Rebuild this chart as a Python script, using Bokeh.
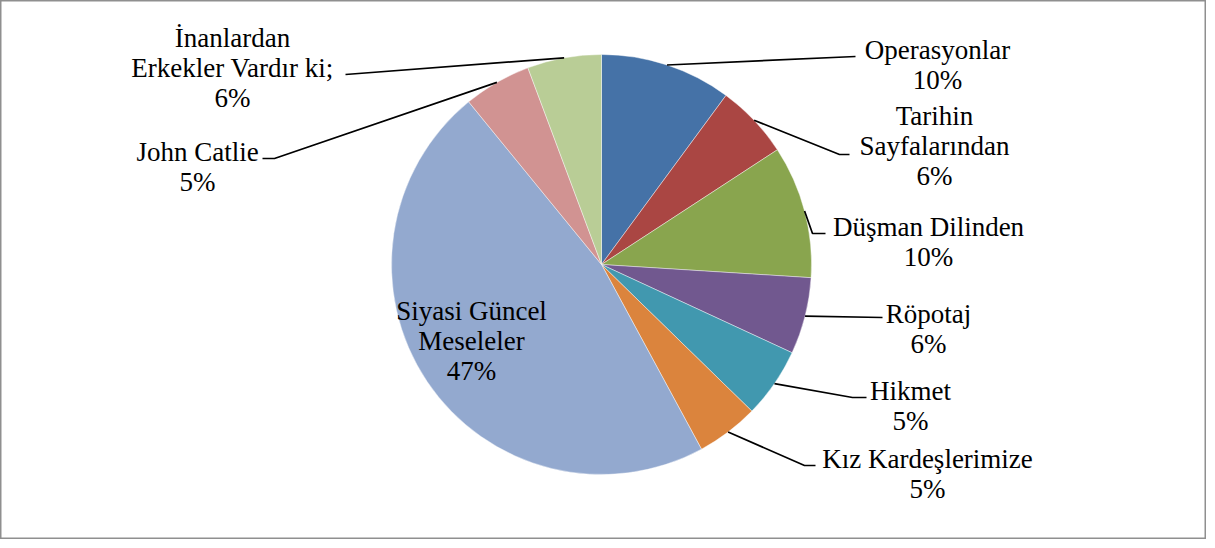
import numpy as np
from bokeh.plotting import figure
from bokeh.models import Range1d, ColumnDataSource
from bokeh.core.properties import value
from bokeh.embed import file_html
from bokeh.resources import INLINE

# ---- data ----
categories = ["Operasyonlar", "Tarihin Sayfalarından", "Düşman Dilinden", "Röpotaj",
              "Hikmet", "Kız Kardeşlerimize", "Siyasi Güncel Meseleler",
              "John Catlie", "İnanlardan Erkekler Vardır ki;"]
shares = [10.1, 5.7, 10.2, 5.9, 5.4, 4.8, 47.0, 5.2, 5.7]
label_lines = [["Operasyonlar"], ["Tarihin", "Sayfalarından"], ["Düşman Dilinden"],
               ["Röpotaj"], ["Hikmet"], ["Kız Kardeşlerimize"],
               ["Siyasi Güncel", "Meseleler"], ["John Catlie"],
               ["İnanlardan", "Erkekler Vardır ki;"]]
colors = ["#4572A7", "#AA4643", "#89A54E", "#71588F", "#4198AF",
          "#DB843D", "#93A9CF", "#D19392", "#B9CD96"]

# ---- layout (page pixel coordinates) ----
W, H = 1206, 539
def px(x): return x - 8
def py(y): return 8 + H - y

CX, CY, R = px(609), py(272), 210
# label block: centre x, first-line y
label_pos = [(945, 57), (942, 123), (936, 234), (936, 321), (918, 398),
             (935, 466), (479, 318), (205, 159), (240, 45)]
# leader elbow points (elbow, end) or None
leader_pts = [[(863, 64)], [(847, 162), (857, 162)], [(820, 241), (833, 241)],
              [(890, 325)], [(860, 405), (874, 405)], [(812, 473), (823, 473)],
              None, [(282, 166), (270, 166)], [(353, 82)]]
LINE_H = 30

p = figure(width=W, height=H, x_range=Range1d(0, W), y_range=Range1d(0, H),
           output_backend="svg", toolbar_location=None, min_border=0)
p.axis.visible = False
p.grid.visible = False
p.outline_line_color = "#8f8f8f"
p.outline_line_width = 2
p.background_fill_color = "white"

tot = float(np.sum(shares))
frac = np.array(shares) / tot
cum = np.concatenate([[0], np.cumsum(frac)])
start = np.pi / 2 - cum[:-1] * 2 * np.pi
end = np.pi / 2 - cum[1:] * 2 * np.pi
src = ColumnDataSource(dict(start=start, end=end, color=colors))
p.wedge(x=CX, y=CY, radius=R, start_angle="start", end_angle="end",
        direction="clock", fill_color="color", line_color="white",
        line_width=0.6, line_alpha=0.7, source=src)

mid = (cum[:-1] + cum[1:]) / 2 * 2 * np.pi
for i, cat in enumerate(categories):
    pct = f"{round(frac[i] * 100):d}%"
    lines = label_lines[i] + [pct]
    lx, ly = label_pos[i]
    for j, t in enumerate(lines):
        p.text(x=[px(lx)], y=[py(ly + j * LINE_H)], text=[t],
               text_font=value("Liberation Serif"), text_font_size="27px",
               text_align="center", text_baseline="middle", text_color="black")
    if leader_pts[i] is not None:
        sx = CX + R * np.sin(mid[i])
        sy = CY + R * np.cos(mid[i])
        xs = [sx] + [px(a) for a, b in leader_pts[i]]
        ys = [sy] + [py(b) for a, b in leader_pts[i]]
        p.line(xs, ys, line_color="black", line_width=1.7)

open("out.html", "w").write(file_html(p, INLINE))
